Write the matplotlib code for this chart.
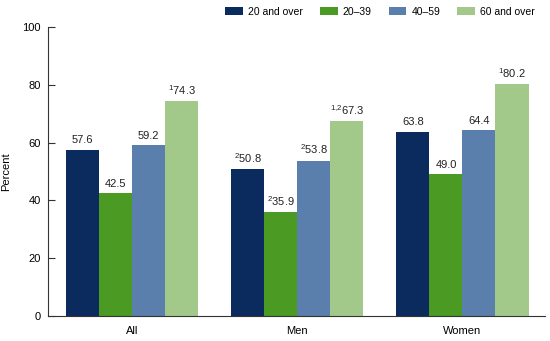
import numpy as np
import matplotlib.pyplot as plt

plt.rcParams['font.family'] = ['Liberation Sans', 'DejaVu Sans']
plt.rcParams['mathtext.fontset'] = 'custom'
plt.rcParams['mathtext.rm'] = 'Liberation Sans'
plt.rcParams['mathtext.default'] = 'rm'

groups = ['All', 'Men', 'Women']
series = ['20 and over', '20\u201339', '40\u201359', '60 and over']
colors = ['#0b2a5e', '#4a9a23', '#5a7fac', '#a3c98a']
values = [
    [57.6, 50.8, 63.8],
    [42.5, 35.9, 49.0],
    [59.2, 53.8, 64.4],
    [74.3, 67.3, 80.2],
]
notes = [
    ['', '2', ''],
    ['', '2', ''],
    ['', '2', ''],
    ['1', '1{,}2', '1'],
]

fig = plt.figure(figsize=(5.5, 3.41), dpi=100)
ax = fig.add_axes([0.087, 0.073, 0.904, 0.848])

x = np.arange(len(groups))
w = 0.2
for i in range(len(series)):
    pos = x + (i - 1.5) * w
    ax.bar(pos, values[i], width=w, color=colors[i], label=series[i])
    for p, v, n in zip(pos, values[i], notes[i]):
        txt = f'{v:.1f}'
        if n:
            txt = r'$^{' + n + '}$' + txt
        ax.text(p, v + 1.5, txt, ha='center', va='bottom', fontsize=8, color='#222222')

ax.set_xlim(-0.51, 2.5)
ax.set_ylim(0, 100)
ax.set_yticks([0, 20, 40, 60, 80, 100])
ax.set_xticks(x)
ax.set_xticklabels(groups, fontsize=8)
ax.tick_params(axis='x', length=0, pad=7)
ax.tick_params(axis='y', labelsize=8, length=5, direction='in', color='#333333', pad=5)
ax.set_ylabel('Percent', fontsize=8, labelpad=8)
for s in ['top', 'right']:
    ax.spines[s].set_visible(False)
ax.spines['left'].set_color('#333333')
ax.spines['bottom'].set_color('#333333')

ax.legend(loc='lower right', bbox_to_anchor=(1.0, 1.0), ncol=4, frameon=False,
          fontsize=7.5, handlelength=1.7, handleheight=0.9, handletextpad=0.5,
          columnspacing=1.6, borderaxespad=0.6)

fig.savefig('out.png', dpi=100)
